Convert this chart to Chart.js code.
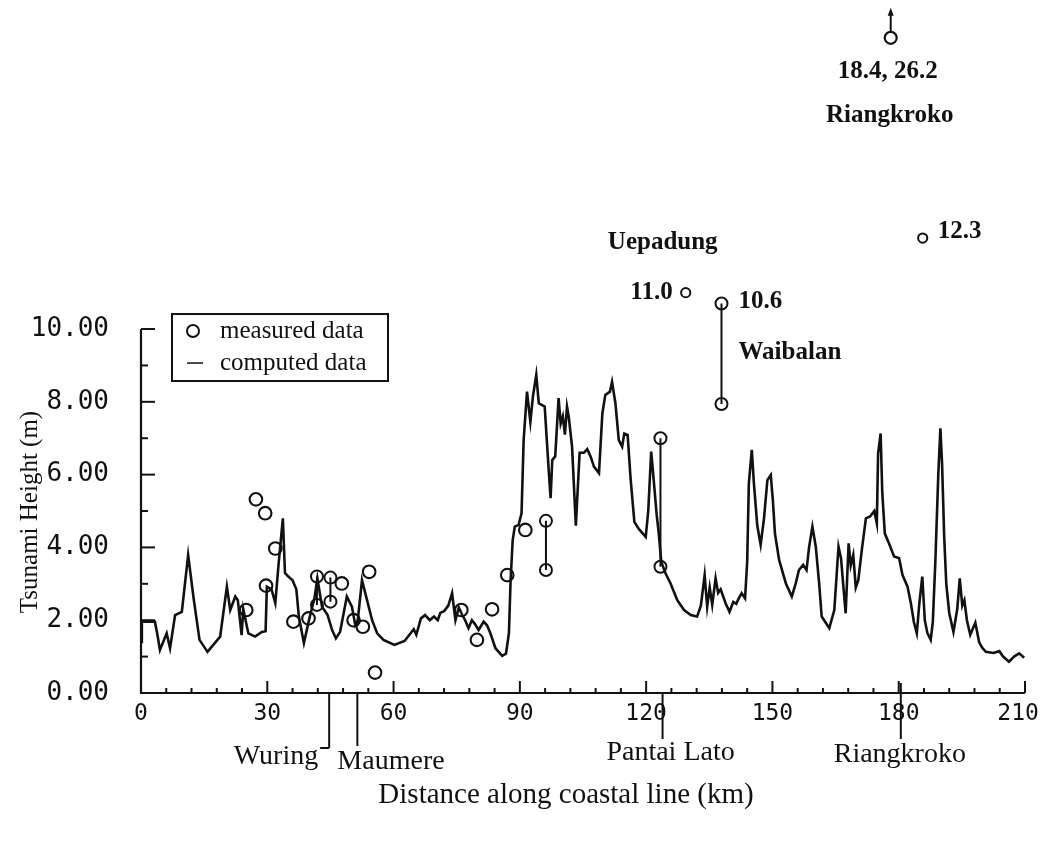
<!DOCTYPE html>
<html><head><meta charset="utf-8">
<script src="https://cdn.jsdelivr.net/npm/chart.js@4.4.1/dist/chart.umd.min.js"></script>
<style>html,body{margin:0;padding:0;background:#fff;}canvas{display:block;}</style>
</head><body>
<canvas id="c" width="1040" height="842"></canvas>
<script>
// ---- data ----
const xTickLabels = [0, 30, 60, 90, 120, 150, 180, 210];
const yTickLabels = [0, 2, 4, 6, 8, 10];

const computedX = [0, 0.2, 3.3, 3.9, 4.5, 6.1, 6.9, 8.1, 9.7, 11.2, 12.5, 13.9, 15.8, 18.8, 20.4, 21.2, 22.4, 23.0, 23.9, 24.3, 25.5, 27.1, 28.7, 29.6, 29.9, 31.0, 31.9, 32.7, 33.7, 34.2, 35.0, 36.0, 36.9, 37.5, 38.7, 40.0, 41.2, 41.9, 43.0, 44.3, 45.4, 46.3, 47.3, 48.9, 50.1, 50.9, 51.5, 52.5, 53.7, 54.9, 56.1, 57.6, 60.2, 62.6, 64.8, 65.4, 66.5, 67.5, 68.6, 69.6, 70.5, 71.1, 72.0, 73.0, 73.9, 74.7, 75.5, 76.3, 77.0, 77.8, 78.6, 79.3, 80.2, 81.4, 82.2, 83.0, 84.2, 85.8, 86.7, 87.4, 87.8, 88.3, 88.8, 89.7, 90.4, 90.9, 91.7, 92.5, 93.1, 93.9, 94.5, 95.9, 96.9, 97.3, 97.7, 98.4, 99.2, 99.7, 100.2, 100.7, 101.2, 101.6, 102.4, 103.3, 104.2, 105.2, 106.0, 106.8, 107.6, 108.8, 109.6, 110.3, 111.4, 111.9, 112.7, 113.5, 114.3, 114.8, 115.6, 116.3, 117.2, 118.3, 119.9, 120.5, 121.2, 121.8, 122.5, 123.0, 123.6, 124.6, 125.8, 127.4, 129.0, 130.6, 132.1, 133.0, 133.9, 134.5, 135.1, 135.7, 136.5, 137.1, 137.7, 138.9, 139.8, 140.7, 141.4, 142.0, 142.7, 143.5, 144.0, 144.4, 145.1, 145.6, 146.4, 147.2, 148.0, 148.8, 149.6, 150.1, 150.6, 151.6, 153.2, 154.6, 155.5, 156.3, 157.3, 158.1, 158.7, 159.5, 160.3, 161.1, 161.7, 163.5, 164.7, 165.7, 166.3, 166.8, 167.4, 168.1, 168.6, 169.2, 169.8, 170.4, 171.2, 172.2, 173.2, 174.2, 174.8, 175.1, 175.7, 176.1, 176.7, 177.7, 178.9, 180.1, 180.9, 182.1, 182.9, 183.6, 184.3, 184.9, 185.6, 186.2, 186.8, 187.6, 188.1, 188.7, 189.4, 189.9, 190.3, 190.8, 191.3, 192.0, 193.0, 193.9, 194.5, 195.1, 195.6, 196.2, 197.0, 198.2, 199.1, 199.8, 200.7, 202.5, 203.9, 204.8, 206.2, 207.4, 208.6, 209.8];
const computedY = [1.4, 1.96, 1.96, 1.6, 1.18, 1.64, 1.23, 2.14, 2.23, 3.79, 2.6, 1.46, 1.13, 1.55, 2.92, 2.28, 2.65, 2.55, 1.59, 2.3, 1.64, 1.55, 1.68, 1.7, 2.92, 2.85, 2.47, 3.56, 4.8, 3.3, 3.2, 3.1, 2.85, 2.1, 1.37, 2.05, 2.6, 3.15, 2.37, 2.15, 1.73, 1.5, 1.68, 2.65, 2.37, 1.87, 2.0, 3.1, 2.55, 2.0, 1.64, 1.46, 1.32, 1.43, 1.75, 1.6, 2.05, 2.14, 2.0, 2.1, 2.0, 2.2, 2.25, 2.4, 2.74, 2.0, 2.35, 2.15, 2.0, 1.78, 2.0, 1.9, 1.73, 1.96, 1.86, 1.64, 1.23, 1.02, 1.08, 1.64, 3.1, 4.2, 4.57, 4.62, 4.94, 6.95, 8.28, 7.45, 8.14, 8.74, 7.96, 7.87, 6.04, 5.35, 6.4, 6.5, 8.1, 7.4, 7.6, 7.1, 7.87, 7.6, 6.77, 4.6, 6.6, 6.6, 6.7, 6.5, 6.22, 6.04, 7.68, 8.19, 8.28, 8.55, 7.96, 6.95, 6.77, 7.13, 7.09, 5.9, 4.7, 4.5, 4.29, 5.0, 6.63, 5.85, 4.9, 4.38, 3.6, 3.29, 3.01, 2.55, 2.28, 2.14, 2.1, 2.4, 3.24, 2.37, 2.9, 2.42, 3.15, 2.75, 2.85, 2.46, 2.23, 2.5, 2.45, 2.6, 2.74, 2.6, 3.6, 5.76, 6.68, 5.76, 4.6, 4.07, 4.8, 5.85, 5.99, 5.3, 4.38, 3.65, 3.01, 2.65, 3.0, 3.38, 3.52, 3.38, 4.0, 4.57, 4.02, 3.01, 2.1, 1.78, 2.28, 4.02, 3.7, 3.0, 2.19, 4.11, 3.5, 3.79, 2.9, 3.1, 3.9, 4.8, 4.85, 5.0, 4.66, 6.58, 7.13, 5.49, 4.38, 4.11, 3.75, 3.7, 3.24, 2.92, 2.46, 1.95, 1.64, 2.46, 3.2, 2.0, 1.65, 1.46, 1.95, 3.6, 6.0, 7.27, 6.3, 4.3, 3.0, 2.2, 1.68, 2.3, 3.15, 2.4, 2.55, 2.0, 1.6, 1.93, 1.4, 1.25, 1.13, 1.1, 1.15, 1.0, 0.86, 1.0, 1.09, 0.97];

const measuredX = [25.0, 27.3, 29.5, 29.7, 31.9, 36.2, 39.8, 47.7, 50.5, 52.7, 54.2, 55.6, 76.1, 79.8, 83.4, 87.0, 91.3];
const measuredY = [2.28, 5.32, 4.94, 2.95, 3.97, 1.96, 2.05, 3.01, 2.0, 1.82, 3.33, 0.56, 2.28, 1.46, 2.3, 3.24, 4.48];

// measured ranges (two values at one site, joined by a bar)
const rangeX    = [41.8, 45.0, 96.2, 123.4, 137.9];
const rangeHigh = [3.2, 3.17, 4.73, 7.0, 10.7];
const rangeLow  = [2.42, 2.51, 3.38, 3.47, 7.94];

// measured values above the 10 m axis
const highX = [129.4, 185.7];
const highY = [11.0, 12.5];
// off-scale Riangkroko marker (18.4, 26.2)
const offScaleX = [178.1];
const offScaleY = [18.0];

const siteNames = ['Wuring', 'Maumere', 'Pantai Lato', 'Riangkroko'];
const siteX = [44.7, 51.4, 123.9, 180.5];

// ---- chart ----
const INK = '#111';
const pts = (xs, ys) => xs.map((x, i) => ({x, y: ys[i]}));

const datasets = [
  { label: 'computed data', data: pts(computedX, computedY), showLine: true,
    borderColor: INK, borderWidth: 2.6, pointRadius: 0, tension: 0 },
];
rangeX.forEach((x, i) => datasets.push({
  label: 'range', data: [{x, y: rangeHigh[i]}, {x, y: rangeLow[i]}], showLine: true,
  borderColor: INK, borderWidth: 2, pointRadius: 6, pointBorderWidth: 2,
  pointBackgroundColor: 'rgba(0,0,0,0)', pointBorderColor: INK
}));
datasets.push({ label: 'measured data', data: pts(measuredX, measuredY), showLine: false,
  pointRadius: 6.3, pointBorderWidth: 2.1, pointBorderColor: INK, pointBackgroundColor: 'rgba(0,0,0,0)' });
datasets.push({ label: 'high', data: pts(highX, highY), showLine: false,
  pointRadius: 4.6, pointBorderWidth: 2, pointBorderColor: INK, pointBackgroundColor: 'rgba(0,0,0,0)' });
datasets.push({ label: 'offscale', data: pts(offScaleX, offScaleY), showLine: false, clip: false,
  pointRadius: 6, pointBorderWidth: 2.2, pointBorderColor: INK, pointBackgroundColor: 'rgba(0,0,0,0)' });

const decor = {
  id: 'decor',
  afterDatasetsDraw(chart) {
    const {ctx, scales: {x, y}} = chart;
    const X = v => x.getPixelForValue(v), Y = v => y.getPixelForValue(v);
    ctx.save();
    ctx.strokeStyle = INK; ctx.fillStyle = INK; ctx.lineCap = 'butt';
    // axis lines
    ctx.lineWidth = 2.2;
    ctx.beginPath(); ctx.moveTo(X(0), Y(10)); ctx.lineTo(X(0), Y(0)); ctx.lineTo(X(210), Y(0)); ctx.stroke();
    // inward ticks
    ctx.lineWidth = 2;
    for (let v = 0; v <= 10; v++) {
      const len = v % 2 === 0 ? 14 : 7;
      ctx.beginPath(); ctx.moveTo(X(0), Y(v)); ctx.lineTo(X(0) + len, Y(v)); ctx.stroke();
    }
    for (let k = 6; k <= 210; k += 6) {
      const len = k % 30 === 0 ? 12 : 5;
      ctx.beginPath(); ctx.moveTo(X(k), Y(0)); ctx.lineTo(X(k), Y(0) - len); ctx.stroke();
    }
    // site markers below the axis
    const y0 = Y(0);
    const markTop = [y0, y0, y0, y0 - 10];
    const markBot = [y0 + 55, y0 + 53, y0 + 46, y0 + 46];
    siteX.forEach((sx, i) => {
      ctx.beginPath(); ctx.moveTo(X(sx), markTop[i]); ctx.lineTo(X(sx), markBot[i]); ctx.stroke();
    });
    ctx.beginPath(); ctx.moveTo(X(siteX[0]) - 9, markBot[0]); ctx.lineTo(X(siteX[0]), markBot[0]); ctx.stroke();

    ctx.font = '28px "Liberation Serif", "Times New Roman", serif';
    ctx.textBaseline = 'middle';
    ctx.textAlign = 'right'; ctx.fillText(siteNames[0], X(siteX[0]) - 11, y0 + 64);
    ctx.textAlign = 'left';  ctx.fillText(siteNames[1], X(siteX[1]) - 20, y0 + 69);
    ctx.textAlign = 'center'; ctx.fillText(siteNames[2], X(siteX[2]) + 8, y0 + 60);
    ctx.fillText(siteNames[3], X(siteX[3]) - 1, y0 + 62);

    // axis titles
    ctx.font = '29px "Liberation Serif", "Times New Roman", serif';
    ctx.fillText('Distance along coastal line (km)', 566, y0 + 102);
    ctx.save();
    ctx.translate(30, 512); ctx.rotate(-Math.PI / 2);
    ctx.font = '25px "Liberation Serif", "Times New Roman", serif';
    ctx.fillText('Tsunami Height (m)', 0, 0);
    ctx.restore();

    // legend box
    const lx = X(0) + 31, ly = Y(10) - 15;
    ctx.lineWidth = 2;
    ctx.strokeRect(lx, ly, 216, 67);
    ctx.beginPath(); ctx.arc(lx + 21, ly + 17, 6, 0, 2 * Math.PI); ctx.stroke();
    ctx.lineWidth = 1.5;
    ctx.beginPath(); ctx.moveTo(lx + 15, ly + 49); ctx.lineTo(lx + 31, ly + 49); ctx.stroke();
    ctx.font = '25px "Liberation Serif", "Times New Roman", serif';
    ctx.textAlign = 'left';
    ctx.fillText('measured data', lx + 48, ly + 17);
    ctx.fillText('computed data', lx + 48, ly + 49);

    // annotations above the axis
    ctx.font = 'bold 25px "Liberation Serif", "Times New Roman", serif';
    const ux = X(highX[0]), uy = Y(highY[0]);
    ctx.textAlign = 'right'; ctx.fillText('11.0', ux - 13, uy);
    ctx.textAlign = 'center'; ctx.fillText('Uepadung', ux - 23, uy - 50);
    const wx = X(rangeX[4]), wy = Y(rangeHigh[4]);
    ctx.textAlign = 'left';
    ctx.fillText('10.6', wx + 17, wy - 2);
    ctx.fillText('Waibalan', wx + 17, wy + 49);
    const rx = X(highX[1]), ry = Y(highY[1]);
    ctx.fillText('12.3', rx + 15, ry - 6);
    const ox = X(offScaleX[0]), oy = Y(offScaleY[0]);
    ctx.textAlign = 'center';
    ctx.fillText('18.4, 26.2', ox - 3, oy + 34);
    ctx.fillText('Riangkroko', ox - 1, oy + 78);
    // arrow to the off-scale value
    ctx.lineWidth = 2;
    ctx.beginPath(); ctx.moveTo(ox, oy - 6); ctx.lineTo(ox, oy - 25); ctx.stroke();
    ctx.beginPath(); ctx.moveTo(ox, oy - 30); ctx.lineTo(ox - 3, oy - 22); ctx.lineTo(ox + 3, oy - 22); ctx.closePath(); ctx.fill();
    ctx.restore();
  }
};

const noPad = s => { s.paddingTop = 0; s.paddingBottom = 0; s.paddingLeft = 0; s.paddingRight = 0; };

const chart = new Chart(document.getElementById('c'), {
  type: 'scatter',
  data: { datasets },
  options: {
    responsive: false, animation: false, devicePixelRatio: 1,
    layout: { autoPadding: false, padding: { left: 0, right: 15, top: 0, bottom: 0 } },
    plugins: { legend: { display: false }, tooltip: { enabled: false } },
    scales: {
      x: {
        type: 'linear', min: 0, max: 210,
        grid: { display: false }, border: { display: false },
        afterBuildTicks: s => { s.ticks = xTickLabels.map(v => ({ value: v })); },
        ticks: { color: INK, padding: -1, maxRotation: 0, autoSkip: false,
                 callback: v => (v === 210 ? '210 ' : String(v)),
                 font: { family: '"DejaVu Sans Mono", monospace', size: 23 } },
        afterFit: s => { s.height = 149; noPad(s); }
      },
      y: {
        type: 'linear', min: 0, max: 19.04,
        grid: { display: false }, border: { display: false },
        afterBuildTicks: s => { s.ticks = yTickLabels.map(v => ({ value: v })); },
        ticks: { color: INK, padding: 24, callback: v => Number(v).toFixed(2),
                 font: { family: '"DejaVu Sans Mono", monospace', size: 26 } },
        afterFit: s => { s.width = 141; noPad(s); }
      }
    }
  },
  plugins: [decor]
});
// make sure the plot area spans exactly top 0 .. right edge 1025
const ca = chart.chartArea;
if (Math.abs(ca.top) > 0.5 || Math.abs(ca.right - 1025) > 0.5) {
  chart.options.layout.padding.top = -ca.top;
  chart.options.layout.padding.right = 15 - (1025 - ca.right);
  chart.update();
}
</script>
</body></html>
